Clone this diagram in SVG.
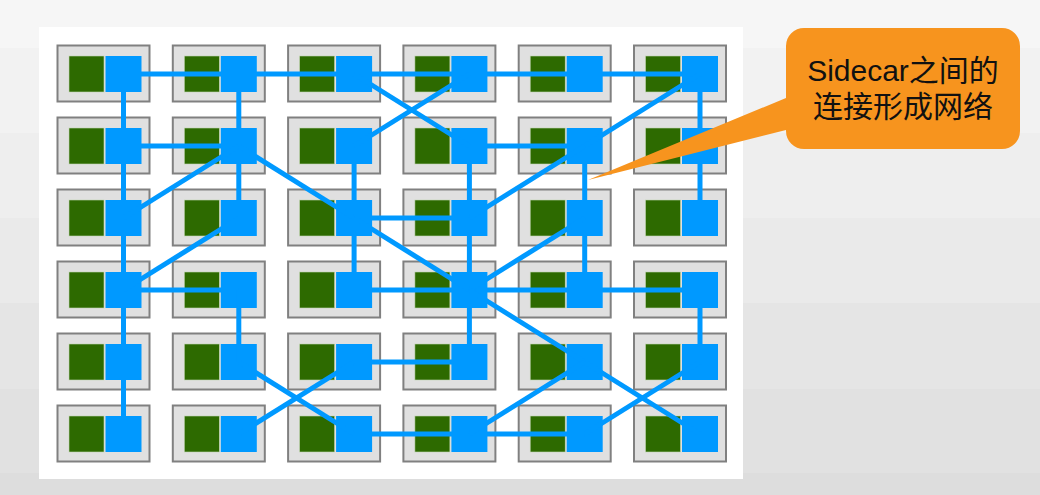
<svg xmlns="http://www.w3.org/2000/svg" xmlns:xlink="http://www.w3.org/1999/xlink" width="1040" height="495" viewBox="0 0 1040 495">
  <style>
    .box { fill: #e0e0e0; stroke: #808080; stroke-width: 2; }
    .app { fill: #2d6a00; stroke: #c4d6b4; stroke-width: 0.6; }
    .car { fill: #0099ff; }
    .link { stroke: #0099ff; stroke-width: 5; fill: none; stroke-linecap: butt; }
    .note { fill: #f7941e; }
    .noteText { font-family: "Liberation Sans", "Noto Sans CJK SC", sans-serif; font-size: 30px; fill: #111111; text-anchor: middle; }
  </style>
  <defs>
    <g id="node">
      <rect class="box" x="1" y="1" width="92" height="56"/>
      <rect class="app" x="12.5" y="11.5" width="35" height="36"/>
      <rect class="car" x="49" y="11.5" width="36" height="36"/>
    </g>
  </defs>

  <g id="background">
    <rect x="0" y="0" width="1040" height="48" fill="#f6f6f6"/>
    <rect x="0" y="48" width="1040" height="85" fill="#f2f2f2"/>
    <rect x="0" y="133" width="1040" height="85" fill="#eeeeee"/>
    <rect x="0" y="218" width="1040" height="85" fill="#eaeaea"/>
    <rect x="0" y="303" width="1040" height="86" fill="#e5e5e5"/>
    <rect x="0" y="389" width="1040" height="84" fill="#e1e1e1"/>
    <rect x="0" y="473" width="1040" height="22" fill="#dddddd"/>
    <rect x="39" y="27" width="704" height="452" fill="#ffffff"/>
  </g>

  <g id="nodes">
    <g id="n-r1c1"><use xlink:href="#node" x="56.5" y="44.5"/></g>
    <g id="n-r1c2"><use xlink:href="#node" x="171.8" y="44.5"/></g>
    <g id="n-r1c3"><use xlink:href="#node" x="287.1" y="44.5"/></g>
    <g id="n-r1c4"><use xlink:href="#node" x="402.4" y="44.5"/></g>
    <g id="n-r1c5"><use xlink:href="#node" x="517.7" y="44.5"/></g>
    <g id="n-r1c6"><use xlink:href="#node" x="633" y="44.5"/></g>

    <g id="n-r2c1"><use xlink:href="#node" x="56.5" y="116.5"/></g>
    <g id="n-r2c2"><use xlink:href="#node" x="171.8" y="116.5"/></g>
    <g id="n-r2c3"><use xlink:href="#node" x="287.1" y="116.5"/></g>
    <g id="n-r2c4"><use xlink:href="#node" x="402.4" y="116.5"/></g>
    <g id="n-r2c5"><use xlink:href="#node" x="517.7" y="116.5"/></g>
    <g id="n-r2c6"><use xlink:href="#node" x="633" y="116.5"/></g>

    <g id="n-r3c1"><use xlink:href="#node" x="56.5" y="188.5"/></g>
    <g id="n-r3c2"><use xlink:href="#node" x="171.8" y="188.5"/></g>
    <g id="n-r3c3"><use xlink:href="#node" x="287.1" y="188.5"/></g>
    <g id="n-r3c4"><use xlink:href="#node" x="402.4" y="188.5"/></g>
    <g id="n-r3c5"><use xlink:href="#node" x="517.7" y="188.5"/></g>
    <g id="n-r3c6"><use xlink:href="#node" x="633" y="188.5"/></g>

    <g id="n-r4c1"><use xlink:href="#node" x="56.5" y="260.5"/></g>
    <g id="n-r4c2"><use xlink:href="#node" x="171.8" y="260.5"/></g>
    <g id="n-r4c3"><use xlink:href="#node" x="287.1" y="260.5"/></g>
    <g id="n-r4c4"><use xlink:href="#node" x="402.4" y="260.5"/></g>
    <g id="n-r4c5"><use xlink:href="#node" x="517.7" y="260.5"/></g>
    <g id="n-r4c6"><use xlink:href="#node" x="633" y="260.5"/></g>

    <g id="n-r5c1"><use xlink:href="#node" x="56.5" y="332.5"/></g>
    <g id="n-r5c2"><use xlink:href="#node" x="171.8" y="332.5"/></g>
    <g id="n-r5c3"><use xlink:href="#node" x="287.1" y="332.5"/></g>
    <g id="n-r5c4"><use xlink:href="#node" x="402.4" y="332.5"/></g>
    <g id="n-r5c5"><use xlink:href="#node" x="517.7" y="332.5"/></g>
    <g id="n-r5c6"><use xlink:href="#node" x="633" y="332.5"/></g>

    <g id="n-r6c1"><use xlink:href="#node" x="56.5" y="404.5"/></g>
    <g id="n-r6c2"><use xlink:href="#node" x="171.8" y="404.5"/></g>
    <g id="n-r6c3"><use xlink:href="#node" x="287.1" y="404.5"/></g>
    <g id="n-r6c4"><use xlink:href="#node" x="402.4" y="404.5"/></g>
    <g id="n-r6c5"><use xlink:href="#node" x="517.7" y="404.5"/></g>
    <g id="n-r6c6"><use xlink:href="#node" x="633" y="404.5"/></g>
  </g>

  <g id="connectors" class="link">
    <!-- horizontal -->
    <line x1="123.5" y1="74" x2="700" y2="74"/>
    <line x1="123.5" y1="146" x2="238.8" y2="146"/>
    <line x1="469.4" y1="146" x2="584.7" y2="146"/>
    <line x1="354.1" y1="218" x2="469.4" y2="218"/>
    <line x1="123.5" y1="290" x2="238.8" y2="290"/>
    <line x1="354.1" y1="290" x2="700" y2="290"/>
    <line x1="354.1" y1="362" x2="469.4" y2="362"/>
    <line x1="354.1" y1="434" x2="584.7" y2="434"/>
    <!-- vertical -->
    <line x1="123.5" y1="74" x2="123.5" y2="434"/>
    <line x1="238.8" y1="74" x2="238.8" y2="218"/>
    <line x1="238.8" y1="290" x2="238.8" y2="362"/>
    <line x1="354.1" y1="146" x2="354.1" y2="290"/>
    <line x1="469.4" y1="146" x2="469.4" y2="362"/>
    <line x1="584.7" y1="146" x2="584.7" y2="290"/>
    <line x1="700" y1="74" x2="700" y2="218"/>
    <line x1="700" y1="290" x2="700" y2="362"/>
    <!-- diagonal -->
    <line x1="354.1" y1="74" x2="469.4" y2="146"/>
    <line x1="469.4" y1="74" x2="354.1" y2="146"/>
    <line x1="700" y1="74" x2="584.7" y2="146"/>
    <line x1="584.7" y1="146" x2="469.4" y2="218"/>
    <line x1="238.8" y1="146" x2="123.5" y2="218"/>
    <line x1="238.8" y1="146" x2="354.1" y2="218"/>
    <line x1="238.8" y1="218" x2="123.5" y2="290"/>
    <line x1="354.1" y1="218" x2="469.4" y2="290"/>
    <line x1="469.4" y1="290" x2="584.7" y2="218"/>
    <line x1="469.4" y1="290" x2="584.7" y2="362"/>
    <line x1="238.8" y1="362" x2="354.1" y2="434"/>
    <line x1="238.8" y1="434" x2="354.1" y2="362"/>
    <line x1="469.4" y1="434" x2="584.7" y2="362"/>
    <line x1="584.7" y1="362" x2="700" y2="434"/>
    <line x1="584.7" y1="434" x2="700" y2="362"/>
  </g>

  <g id="callout">
    <path class="note" d="M 804 28 H 1002 A 18 18 0 0 1 1020 46 V 131 A 18 18 0 0 1 1002 149 H 804 A 18 18 0 0 1 786 131 V 130 L 588 180 L 786 98 V 46 A 18 18 0 0 1 804 28 Z"/>
    <text class="noteText" x="903" y="81">Sidecar之间的</text>
    <text class="noteText" x="903" y="117">连接形成网络</text>
  </g>
</svg>
